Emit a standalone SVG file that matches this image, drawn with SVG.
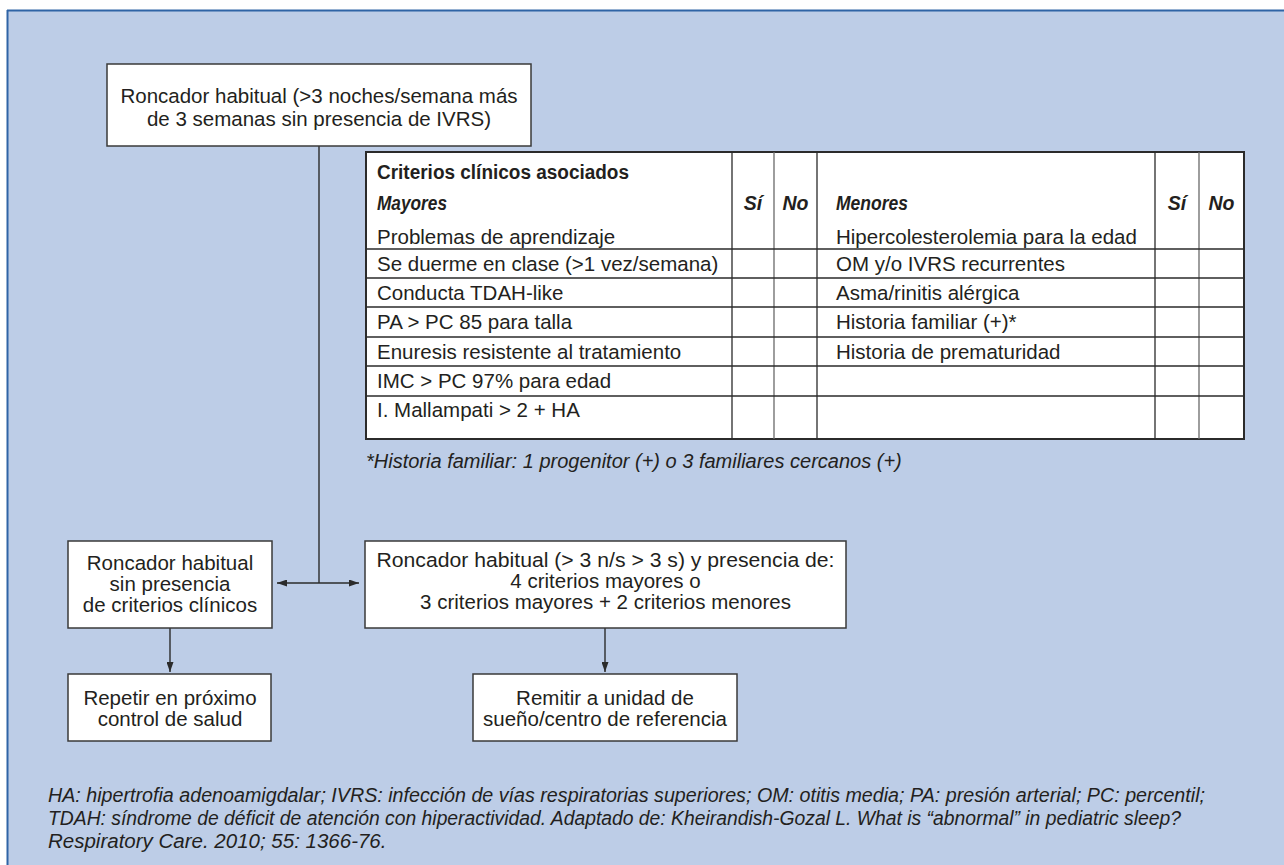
<svg xmlns="http://www.w3.org/2000/svg" width="1284" height="865" viewBox="0 0 1284 865">
<style>
  .t { font-family: "Liberation Sans", Arial, sans-serif; font-size: 20.5px; fill: #231f20; }
  .c { text-anchor: middle; }
  .b { font-weight: bold; font-size: 19.5px; }
  .bi { font-weight: bold; font-style: italic; font-size: 19.5px; }
  .i { font-style: italic; }
  .box { fill: #ffffff; stroke: #3a3a3a; stroke-width: 1.5; }
  .grid { stroke: #2b2b2b; stroke-width: 1.3; fill: none; }
  .gridl { stroke: #6a6a6a; stroke-width: 1.3; fill: none; }
  .conn { stroke: #2b2b2b; stroke-width: 1.4; fill: none; }
</style>
<defs>
  <marker id="ah" viewBox="0 0 10 7" refX="10" refY="3.5" markerWidth="10" markerHeight="7" markerUnits="userSpaceOnUse" orient="auto-start-reverse">
    <path d="M0,0 L10,3.5 L0,7 Z" fill="#2b2b2b"/>
  </marker>
</defs>

<!-- background frame -->
<rect x="0" y="0" width="1284" height="865" fill="#ffffff"/>
<rect x="8" y="11" width="1276" height="854" fill="#bdcde7"/>
<line x1="7" y1="10.5" x2="1284" y2="10.5" stroke="#2f64a6" stroke-width="2"/>
<line x1="7.5" y1="10" x2="7.5" y2="865" stroke="#2f64a6" stroke-width="2"/>

<g id="connectors">
  <line class="conn" x1="319" y1="146" x2="319" y2="583"/>
  <line class="conn" x1="277" y1="583" x2="359" y2="583" marker-start="url(#ah)" marker-end="url(#ah)"/>
  <line class="conn" x1="170" y1="628" x2="170" y2="672" marker-end="url(#ah)"/>
  <line class="conn" x1="605" y1="628" x2="605" y2="672" marker-end="url(#ah)"/>
</g>

<g id="node-roncador">
  <rect class="box" x="107" y="64" width="424" height="82"/>
  <text class="t c" x="319" y="103">Roncador habitual (&gt;3 noches/semana más</text>
  <text class="t c" x="319" y="126">de 3 semanas sin presencia de IVRS)</text>
</g>

<g id="table-criterios">
  <rect x="366" y="152" width="878" height="287" fill="#ffffff" stroke="#2b2b2b" stroke-width="2"/>
  <path class="grid" d="M732,152V439 M817,152V439 M1155,152V439"/>
  <path class="gridl" d="M774,152V439 M1199,152V439"/>
  <path class="grid" d="M366,249H1244 M366,278H1244 M366,307H1244 M366,337H1244 M366,366H1244 M366,396H1244"/>
  <text class="t b" x="377" y="179" textLength="252" lengthAdjust="spacingAndGlyphs">Criterios clínicos asociados</text>
  <text class="t bi" x="377" y="210" textLength="70" lengthAdjust="spacingAndGlyphs">Mayores</text>
  <text class="t bi c" x="753" y="210">Sí</text>
  <text class="t bi c" x="795.5" y="210">No</text>
  <text class="t bi" x="836" y="210" textLength="72" lengthAdjust="spacingAndGlyphs">Menores</text>
  <text class="t bi c" x="1177" y="210">Sí</text>
  <text class="t bi c" x="1221.5" y="210">No</text>
  <text class="t" x="377" y="244">Problemas de aprendizaje</text>
  <text class="t" x="377" y="270.5">Se duerme en clase (&gt;1 vez/semana)</text>
  <text class="t" x="377" y="299.5">Conducta TDAH-like</text>
  <text class="t" x="377" y="329">PA &gt; PC 85 para talla</text>
  <text class="t" x="377" y="358.5">Enuresis resistente al tratamiento</text>
  <text class="t" x="377" y="388">IMC &gt; PC 97% para edad</text>
  <text class="t" x="377" y="417">I. Mallampati &gt; 2 + HA</text>
  <text class="t" x="836" y="244">Hipercolesterolemia para la edad</text>
  <text class="t" x="836" y="270.5">OM y/o IVRS recurrentes</text>
  <text class="t" x="836" y="299.5">Asma/rinitis alérgica</text>
  <text class="t" x="836" y="329">Historia familiar (+)*</text>
  <text class="t" x="836" y="358.5">Historia de prematuridad</text>
  <text class="t i" x="366" y="468" style="font-size:20px">*Historia familiar: 1 progenitor (+) o 3 familiares cercanos (+)</text>
</g>

<g id="node-sin-criterios">
  <rect class="box" x="68" y="541" width="204" height="87"/>
  <text class="t c" x="170" y="570">Roncador habitual</text>
  <text class="t c" x="170" y="591">sin presencia</text>
  <text class="t c" x="170" y="612">de criterios clínicos</text>
</g>

<g id="node-con-criterios">
  <rect class="box" x="365" y="541" width="481" height="87"/>
  <text class="t c" x="605.5" y="567" textLength="458" lengthAdjust="spacingAndGlyphs">Roncador habitual (&gt; 3 n/s &gt; 3 s) y presencia de:</text>
  <text class="t c" x="605.5" y="588">4 criterios mayores o</text>
  <text class="t c" x="605.5" y="609">3 criterios mayores + 2 criterios menores</text>
</g>

<g id="node-repetir">
  <rect class="box" x="68" y="674" width="203" height="67"/>
  <text class="t c" x="170" y="705">Repetir en próximo</text>
  <text class="t c" x="170" y="726">control de salud</text>
</g>

<g id="node-remitir">
  <rect class="box" x="473" y="674" width="264" height="67"/>
  <text class="t c" x="605" y="705">Remitir a unidad de</text>
  <text class="t c" x="605" y="726">sueño/centro de referencia</text>
</g>

<g id="notes">
  <text class="t i" x="48" y="802" textLength="1157" lengthAdjust="spacingAndGlyphs">HA: hipertrofia adenoamigdalar; IVRS: infección de vías respiratorias superiores; OM: otitis media; PA: presión arterial; PC: percentil;</text>
  <text class="t i" x="48" y="825" textLength="1133" lengthAdjust="spacingAndGlyphs">TDAH: síndrome de déficit de atención con hiperactividad. Adaptado de: Kheirandish-Gozal L. What is “abnormal” in pediatric sleep?</text>
  <text class="t i" x="48" y="848">Respiratory Care. 2010; 55: 1366-76.</text>
</g>
</svg>
